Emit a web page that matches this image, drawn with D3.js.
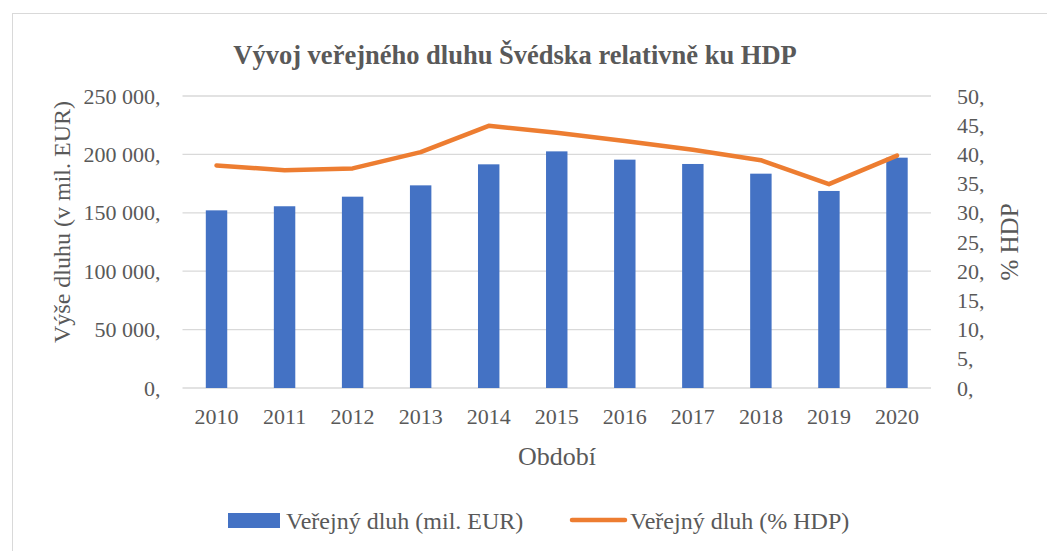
<!DOCTYPE html>
<html lang="cs">
<head>
<meta charset="UTF-8">
<title>Vývoj veřejného dluhu Švédska relativně ku HDP</title>
<style>
  body, html { margin: 0; padding: 0; background: #fff; overflow: hidden; }
  svg { display: block; }
  svg text { font-family: "Liberation Serif", "Times New Roman", Times, serif !important; fill: #595959; }
  .grid line { stroke: #d9d9d9; stroke-width: 1.3; }
  .axis path, .axis line { display: none; }
</style>
</head>
<body>
<svg></svg>
<script src="https://d3js.org/d3.v7.min.js"></script>
<script>
  // data
  const years = ["2010", "2011", "2012", "2013", "2014", "2015", "2016", "2017", "2018", "2019", "2020"];
  const debtEur = [152100, 155600, 163800, 173500, 191500, 202600, 195500, 191800, 183500, 168700, 197200];
  const debtPct = [38.1, 37.3, 37.6, 40.4, 44.9, 43.7, 42.3, 40.8, 39.0, 34.9, 39.8];
  const leftTicks = [0, 50000, 100000, 150000, 200000, 250000];
  const rightTicks = [0, 5, 10, 15, 20, 25, 30, 35, 40, 45, 50];

  const W = 1047, H = 551;
  const margin = { top: 96, right: 116, bottom: 163, left: 182.5 };

  const svg = d3.select("svg").attr("width", W).attr("height", H);

  // chart frame
  svg.append("rect")
    .attr("x", 12.5).attr("y", 13.5)
    .attr("width", 1100).attr("height", 600)
    .attr("fill", "#fff").attr("stroke", "#d9d9d9");

  const x = d3.scaleBand()
    .domain(years)
    .range([margin.left, W - margin.right])
    .paddingInner(0.685).paddingOuter(0.3425);

  const yL = d3.scaleLinear().domain([0, 250000]).range([H - margin.bottom, margin.top]);
  const yR = d3.scaleLinear().domain([0, 50]).range([H - margin.bottom, margin.top]);

  const loc = d3.formatLocale({ decimal: ",", thousands: " ", grouping: [3], currency: ["", ""] });
  const fmt = loc.format(",d");

  // gridlines
  svg.append("g").attr("class", "grid")
    .selectAll("line").data(leftTicks).enter().append("line")
    .attr("x1", margin.left).attr("x2", W - margin.right)
    .attr("y1", d => yL(d)).attr("y2", d => yL(d));

  // bars
  svg.append("g").selectAll("rect")
    .data(years.map((y, i) => ({ year: y, v: debtEur[i] })))
    .enter().append("rect")
    .attr("x", d => x(d.year))
    .attr("width", x.bandwidth())
    .attr("y", d => yL(d.v))
    .attr("height", d => yL(0) - yL(d.v))
    .attr("fill", "#4472c4");

  // line
  const line = d3.line()
    .x((d, i) => x(years[i]) + x.bandwidth() / 2)
    .y(d => yR(d));
  svg.append("path")
    .datum(debtPct)
    .attr("d", line)
    .attr("fill", "none")
    .attr("stroke", "#ed7d31")
    .attr("stroke-width", 4.5)
    .attr("stroke-linecap", "round")
    .attr("stroke-linejoin", "round");

  // axes
  svg.append("g").attr("class", "axis")
    .attr("transform", `translate(${margin.left - 16},0)`)
    .call(d3.axisLeft(yL).tickValues(leftTicks).tickSize(0).tickPadding(6).tickFormat(d => fmt(d) + ","));
  svg.append("g").attr("class", "axis")
    .attr("transform", `translate(${W - margin.right + 20},0)`)
    .call(d3.axisRight(yR).tickValues(rightTicks).tickSize(0).tickPadding(6).tickFormat(d => d + ","));
  svg.append("g").attr("class", "axis")
    .attr("transform", `translate(0,${H - margin.bottom + 14})`)
    .call(d3.axisBottom(x).tickSize(0).tickPadding(6));
  svg.selectAll(".axis text")
    .style("font-size", "22px").attr("fill", "#595959");

  // titles
  svg.append("text")
    .attr("x", 515).attr("y", 64)
    .attr("text-anchor", "middle")
    .style("font-size", "26.5px").style("font-weight", "bold")
    .text("Vývoj veřejného dluhu Švédska relativně ku HDP");

  svg.append("text")
    .attr("transform", `translate(70,222) rotate(-90)`)
    .attr("text-anchor", "middle")
    .style("font-size", "24px")
    .text("Výše dluhu (v mil. EUR)");

  svg.append("text")
    .attr("transform", `translate(1018,242) rotate(-90)`)
    .attr("text-anchor", "middle")
    .style("font-size", "25px")
    .text("% HDP");

  svg.append("text")
    .attr("x", 557).attr("y", 465)
    .attr("text-anchor", "middle")
    .style("font-size", "26px")
    .text("Období");

  // legend
  const leg = svg.append("g");
  leg.append("rect").attr("x", 228).attr("y", 513).attr("width", 52).attr("height", 15).attr("fill", "#4472c4");
  leg.append("text").attr("x", 286).attr("y", 529).style("font-size", "24px").text("Veřejný dluh (mil. EUR)");
  leg.append("line").attr("x1", 572).attr("x2", 625).attr("y1", 520).attr("y2", 520)
    .attr("stroke", "#ed7d31").attr("stroke-width", 4.5).attr("stroke-linecap", "round");
  leg.append("text").attr("x", 630).attr("y", 529).style("font-size", "24px").text("Veřejný dluh (% HDP)");
</script>
</body>
</html>
